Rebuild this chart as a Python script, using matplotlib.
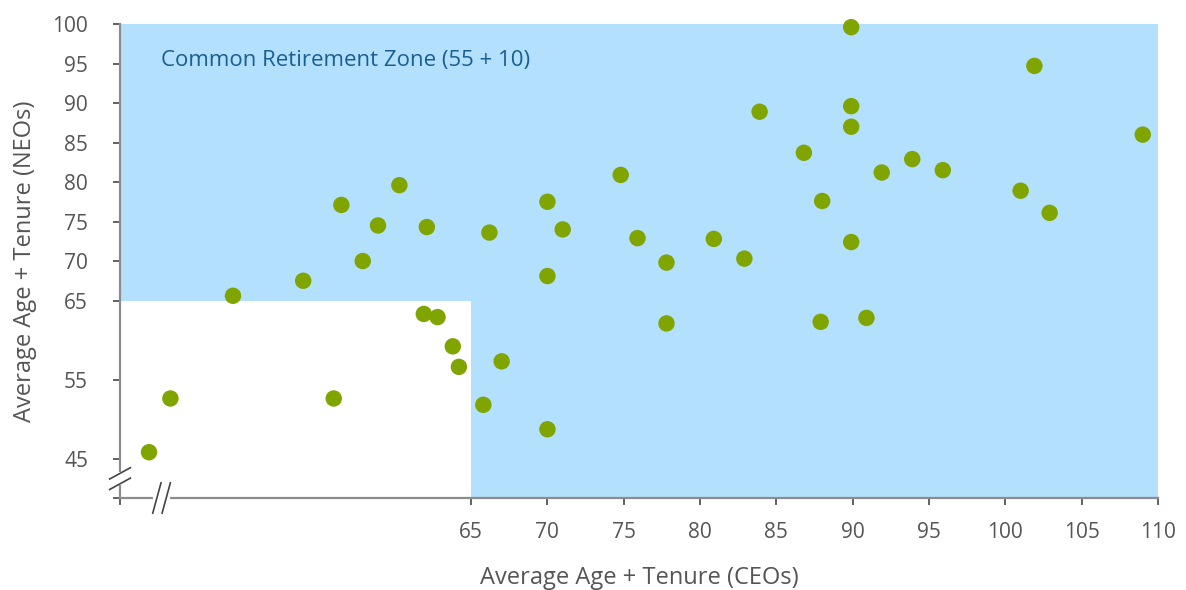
import matplotlib
matplotlib.use('Agg')
import matplotlib.pyplot as plt
from matplotlib.patches import Rectangle

plt.rcParams['font.family'] = ['Open Sans', 'DejaVu Sans']

# data (CEOs on x, NEOs on y)
ceo_values = [43.9, 45.3, 49.4, 54.0, 56.0, 56.5, 57.9, 58.9, 60.3, 62.1,
              61.9, 62.8, 63.8, 64.2, 65.8, 66.2, 67.0, 70.0, 70.0, 70.0,
              71.0, 74.8, 75.9, 77.8, 77.8, 80.9, 82.9, 83.9, 86.8, 88.0,
              87.9, 89.9, 89.9, 89.9, 89.9, 90.9, 91.9, 93.9, 95.9, 101.0,
              101.9, 102.9, 109.0]
neo_values = [45.8, 52.6, 65.6, 67.5, 52.6, 77.1, 70.0, 74.5, 79.6, 74.3,
              63.3, 62.9, 59.2, 56.6, 51.8, 73.6, 57.3, 48.7, 68.1, 77.5,
              74.0, 80.9, 72.9, 69.8, 62.1, 72.8, 70.3, 88.9, 83.7, 77.6,
              62.3, 99.6, 89.6, 87.0, 72.4, 62.8, 81.2, 82.9, 81.5, 78.9,
              94.7, 76.1, 86.0]

x_ticks = [65, 70, 75, 80, 85, 90, 95, 100, 105, 110]
y_ticks = [45, 55, 65, 70, 75, 80, 85, 90, 95, 100]
zone_age = 65
zone_label = 'Common Retirement Zone (55 + 10)'

x_min, x_max = 42, 110
y_min, y_max = 40, 100

fig = plt.figure(figsize=(11.86, 5.90), dpi=100)
ax = fig.add_axes([0.1012, 0.1559, 0.8752, 0.8034])

zone_color = '#b3e0fc'
# retirement zone: everything above 65 on either axis
ax.add_patch(Rectangle((x_min, zone_age), zone_age - x_min, y_max - zone_age,
                       color=zone_color, lw=0, zorder=0))
ax.add_patch(Rectangle((zone_age, y_min), x_max - zone_age, y_max - y_min,
                       color=zone_color, lw=0, zorder=0))

ax.scatter(ceo_values, neo_values, s=140, color='#80a400', edgecolors='none',
           zorder=3, clip_on=False)

ax.set_xlim(x_min, x_max)
ax.set_ylim(y_min, y_max)

axis_grey = '#8c8c8c'
ax.spines['top'].set_visible(False)
ax.spines['right'].set_visible(False)
for side in ['left', 'bottom']:
    ax.spines[side].set_color(axis_grey)
    ax.spines[side].set_linewidth(1.6)

ax.set_xticks([x_min] + x_ticks)
ax.set_xticklabels([''] + [str(t) for t in x_ticks])
ax.set_yticks([y_min] + y_ticks)
ax.set_yticklabels([''] + [str(t) for t in y_ticks])
ax.tick_params(axis='both', colors='#555555', labelsize=15, length=5,
               width=1.3, direction='out')
ax.tick_params(axis='x', pad=12)
ax.tick_params(axis='y', pad=18)
for t in ax.get_xticklines() + ax.get_yticklines():
    t.set_color('#444444')

ax.set_xlabel('Average Age + Tenure (CEOs)', fontsize=17, color='#555555',
              labelpad=17)
ax.set_ylabel('Average Age + Tenure (NEOs)', fontsize=17, color='#555555',
              labelpad=11)

ax.text(0.0395, 0.922, zone_label, transform=ax.transAxes, fontsize=16,
        color='#1a5f92', va='center', ha='left')

# axis break marks
def break_mark(x, y, dx, dy, gap_dx, gap_dy):
    for k in (-1, 1):
        cx, cy = x + k * gap_dx, y + k * gap_dy
        ax.plot([cx - dx, cx + dx], [cy - dy, cy + dy], transform=ax.transAxes,
                color='#444444', lw=1.2, clip_on=False, zorder=5)

# white gap on the y axis then the slashes
ax.plot([0, 0], [0.032, 0.05], transform=ax.transAxes, color='white', lw=3,
        clip_on=False, zorder=4)
break_mark(0, 0.041, 0.010, 0.012, 0.0, 0.011)
ax.plot([0.034, 0.046], [0, 0], transform=ax.transAxes, color='white', lw=3,
        clip_on=False, zorder=4)
break_mark(0.040, 0, 0.004, 0.032, 0.0045, 0.0)

fig.savefig('out.png', dpi=100)
